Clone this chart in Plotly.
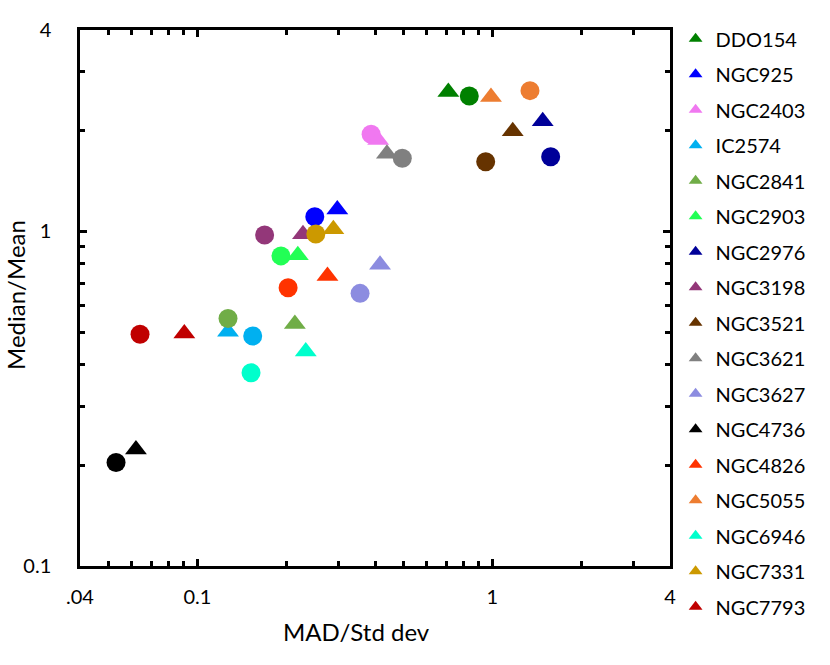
import plotly.graph_objects as go

galaxies = ["DDO154", "NGC925", "NGC2403", "IC2574", "NGC2841", "NGC2903",
            "NGC2976", "NGC3198", "NGC3521", "NGC3621", "NGC3627", "NGC4736",
            "NGC4826", "NGC5055", "NGC6946", "NGC7331", "NGC7793"]

colors = ["#008000", "#0000FF", "#F078F0", "#00B0F0", "#70AD47", "#22FF55",
          "#000099", "#933779", "#663300", "#808080", "#8C8CE0", "#000000",
          "#FF3300", "#ED7D31", "#00FFCC", "#CC9900", "#C00000"]

# circle series (MAD/Std dev, Median/Mean)
circle_x = [0.835, 0.250, 0.388, 0.154, 0.127, 0.192, 1.576, 0.169, 0.949,
            0.495, 0.356, 0.053, 0.203, 1.341, 0.152, 0.252, 0.0639]
circle_y = [2.54, 1.107, 1.951, 0.487, 0.549, 0.845, 1.673, 0.976, 1.616,
            1.654, 0.653, 0.204, 0.679, 2.635, 0.378, 0.983, 0.493]

# triangle series
tri_x = [0.709, 0.298, 0.410, 0.127, 0.214, 0.219, 1.481, 0.228, 1.172,
         0.439, 0.416, 0.0619, 0.276, 0.989, 0.233, 0.289, 0.0903]
tri_y = [2.611, 1.162, 1.876, 0.501, 0.529, 0.849, 2.134, 0.981, 1.992,
         1.708, 0.795, 0.223, 0.736, 2.523, 0.438, 1.015, 0.495]

x_ticks = [0.04, 0.1, 1, 4]
x_ticktext = [".04", "0.1", "1", "4"]
y_ticks = [0.1, 1, 4]
y_ticktext = ["0.1", "1", "4"]
x_minor = [0.05, 0.06, 0.07, 0.08, 0.09, 0.2, 0.3, 0.4, 0.5, 0.6, 0.7, 0.8, 0.9, 2, 3]
y_minor = [0.2, 0.3, 0.4, 0.5, 0.6, 0.7, 0.8, 0.9, 2, 3]

x_title = "MAD/Std dev"
y_title = "Median/Mean"

FONT = "Lato"

fig = go.Figure()
for i, name in enumerate(galaxies):
    fig.add_trace(go.Scatter(
        x=[circle_x[i]], y=[circle_y[i]], mode="markers", name=name,
        legendgroup=name, showlegend=False,
        marker=dict(symbol="circle", size=19, color=colors[i], line=dict(width=0)),
    ))
    fig.add_trace(go.Scatter(
        x=[tri_x[i]], y=[tri_y[i]], mode="markers", name=name,
        legendgroup=name, showlegend=True,
        marker=dict(symbol="triangle-up", size=19, color=colors[i], line=dict(width=0)),
    ))

axis_common = dict(
    type="log", showgrid=False, zeroline=False,
    showline=True, linecolor="black", linewidth=2.5, mirror="ticks",
    ticks="inside", ticklen=7, tickwidth=2.5, tickcolor="black",
    tickfont=dict(family=FONT, size=20, color="black"),
)

fig.update_xaxes(
    **axis_common,
    range=[-1.39794, 0.60206],
    tickvals=x_ticks, ticktext=x_ticktext,
    minor=dict(tickvals=x_minor, ticks="inside", ticklen=5, tickwidth=2.5, tickcolor="black"),
    ticklabelstandoff=11,
)
fig.update_yaxes(
    **axis_common,
    range=[-1.0, 0.60206],
    tickvals=y_ticks, ticktext=y_ticktext,
    minor=dict(tickvals=y_minor, ticks="inside", ticklen=5, tickwidth=2.5, tickcolor="black"),
    ticklabelstandoff=22,
)

fig.add_annotation(
    text=x_title, xref="paper", yref="paper", x=0.4678, y=-0.1231,
    xanchor="center", yanchor="middle", showarrow=False,
    font=dict(family=FONT, size=24, color="black"),
)
fig.add_annotation(
    text=y_title, xref="paper", yref="paper", x=-0.1085, y=0.5056,
    xanchor="center", yanchor="middle", showarrow=False, textangle=-90,
    font=dict(family=FONT, size=24, color="black"),
)

fig.update_layout(
    width=830, height=665,
    margin=dict(l=80, r=160, t=30, b=99),
    plot_bgcolor="white", paper_bgcolor="white",
    showlegend=True,
    legend=dict(
        x=1.0095, xanchor="left", y=1.02, yanchor="top",
        font=dict(family=FONT, size=20, color="black"),
        tracegroupgap=6.5, itemsizing="constant", maxheight=1,
        bgcolor="rgba(0,0,0,0)",
    ),
)

fig.write_html("out.html", config={"displayModeBar": False},
               post_script="document.body.style.margin='0px';")
